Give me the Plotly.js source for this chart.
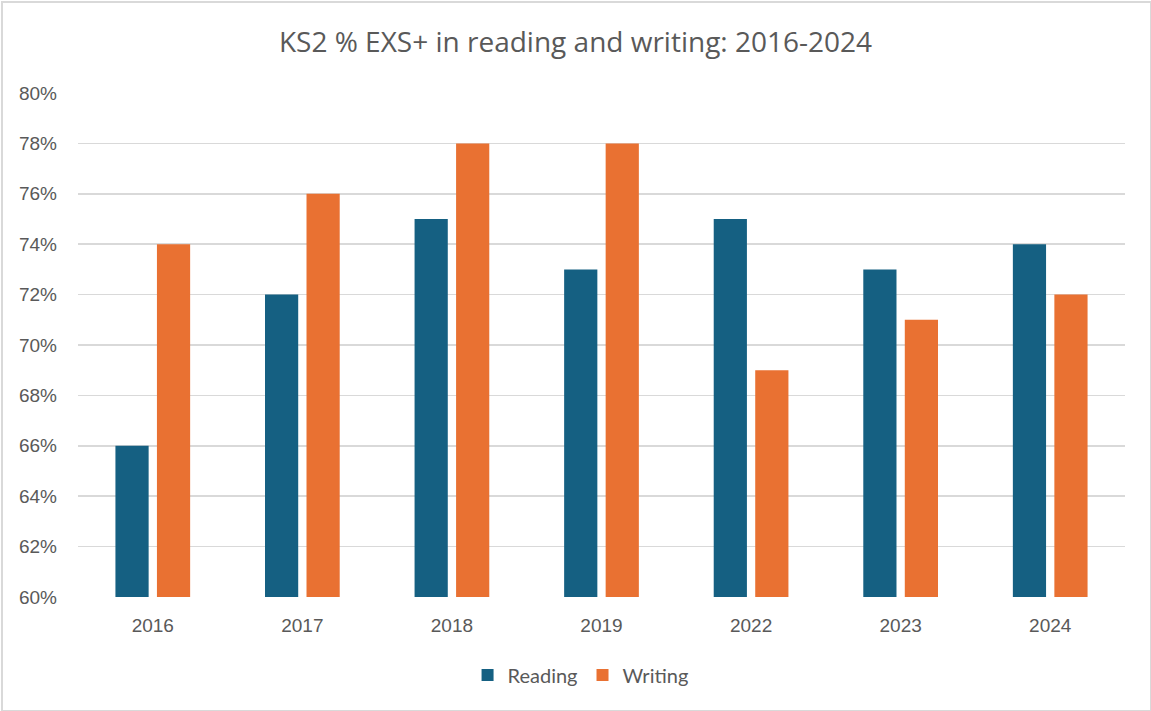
<!DOCTYPE html>
<html>
<head>
<meta charset="utf-8">
<script src="https://cdn.plot.ly/plotly-3.0.1.min.js"></script>
<style>
  body { margin: 0; background: #fff; }
  #wrap { position: relative; width: 1151px; height: 711px; }
  #plot { width: 1151px; height: 711px; }
  #frame { position: absolute; left: 1px; top: 1px; width: 1147px; height: 707px;
           border: 2px solid #d9d9d9; pointer-events: none; }
</style>
</head>
<body>
<div id="wrap">
  <div id="plot"></div>
  <div id="frame"></div>
</div>
<script>
// Years shown on the x axis (no tests in 2020/2021)
const years = ['2016', '2017', '2018', '2019', '2022', '2023', '2024'];
// % reaching expected standard or above
const reading = [66, 72, 75, 73, 75, 73, 74];
const writing = [74, 76, 78, 78, 69, 71, 72];

const yTicks = [60, 62, 64, 66, 68, 70, 72, 74, 76, 78, 80];

const fontFamily = '"Liberation Sans", Arial, sans-serif';

let traceReading = {
    x: years,
    y: reading,
    name: 'Reading',
    type: 'bar',
    marker: { color: '#156082' },
    hoverinfo: 'skip'
};

let traceWriting = {
    x: years,
    y: writing,
    name: 'Writing',
    type: 'bar',
    marker: { color: '#E97132' },
    hoverinfo: 'skip'
};

let layout = {
    width: 1151,
    height: 711,
    margin: { l: 78, r: 26, t: 93, b: 114 },
    paper_bgcolor: '#ffffff',
    plot_bgcolor: '#ffffff',
    font: { family: fontFamily, color: '#595959' },
    title: {
        text: 'KS2 % EXS+ in reading and writing: 2016-2024',
        font: { family: '"Open Sans", sans-serif', size: 28, color: '#595959' },
        x: 0.5,
        xanchor: 'center',
        y: 0.94,
        yanchor: 'middle'
    },
    barmode: 'group',
    bargap: 0.445,
    bargroupgap: 0.2,
    xaxis: {
        type: 'category',
        showline: false,
        ticks: '',
        tickfont: { size: 19, color: '#595959' },
        ticklabelstandoff: 15,
        showgrid: false,
        zeroline: false
    },
    yaxis: {
        range: [60, 80],
        tickvals: yTicks,
        ticktext: yTicks.map(v => v + '%'),
        tickfont: { size: 19, color: '#595959' },
        showgrid: true,
        gridcolor: '#d9d9d9',
        gridwidth: 1.5,
        zeroline: false,
        showline: false,
        ticks: '',
        ticklabelstandoff: 20
    },
    showlegend: true,
    legend: {
        orientation: 'h',
        x: 0.48,
        xanchor: 'center',
        y: -0.155,
        yanchor: 'middle',
        font: { family: '"Lato", sans-serif', size: 20, color: '#595959' },
        itemwidth: 30,
        traceorder: 'normal'
    }
};

Plotly.newPlot('plot', [traceReading, traceWriting], layout, { staticPlot: true, displayModeBar: false });
</script>
</body>
</html>
